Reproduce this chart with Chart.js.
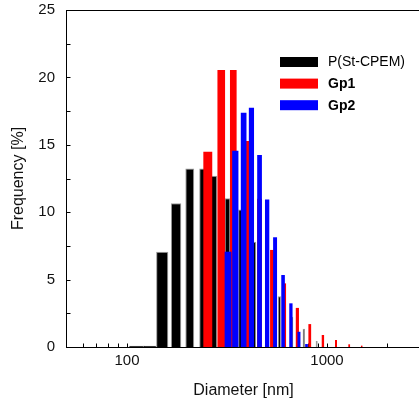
<!DOCTYPE html>
<html><head><meta charset="utf-8">
<script src="https://cdn.jsdelivr.net/npm/chart.js@4.4.0/dist/chart.umd.min.js"></script>
<style>
html,body{margin:0;padding:0;background:#fff;overflow:hidden;}
#wrap{position:relative;width:425px;height:403px;}
</style></head><body>
<div id="wrap"><canvas id="c"></canvas></div>
<script>
// ---- data ----
const seriesNames = ['P(St-CPEM)', 'Gp1', 'Gp2'];
const blackDiam = [112, 130, 150, 176, 206, 240, 272, 318, 370, 432, 501, 578, 668, 766, 888];
const blackFreq = [0.1, 0.1, 7.07, 10.66, 13.25, 13.25, 12.71, 11.03, 10.2, 7.8, 5.5, 3.76, 2.25, 1.35, 0.45];
const redDiam = [253.5, 296, 340, 396, 460, 532, 611, 711, 820, 954, 1109, 1291, 1491];
const redFreq = [14.49, 20.55, 20.55, 15.28, 11.0, 7.2, 4.72, 2.9, 1.7, 0.89, 0.52, 0.2, 0.1];
const blueDiam = [320, 348, 383, 419, 460, 502, 550, 603, 660, 724, 790];
const blueFreq = [7.07, 14.56, 17.38, 17.75, 14.24, 10.95, 8.14, 5.34, 3.24, 1.13, 0.22];
const xTickValues = [60, 70, 80, 90, 100, 200, 300, 400, 500, 600, 700, 800, 900, 1000, 2000];
const xTickLabels = [100, 1000];
const yTickLabels = [0, 5, 10, 15, 20, 25];
const yMinorTicks = [0, 2.5, 5, 7.5, 10, 12.5, 15, 17.5, 20, 22.5, 25];

const FONT = "'Liberation Sans', Arial, sans-serif";
const toPts = (d, f) => d.map((v, i) => ({x: v, y: f[i]}));

const binWidthPlugin = {
  id: 'binWidth',
  afterDatasetsUpdate(chart) {
    const xs = chart.scales.x;
    chart.data.datasets.forEach((ds, i) => {
      const meta = chart.getDatasetMeta(i);
      const w = ds.binWidthNm;
      meta.data.forEach((el, j) => {
        const d = ds.data[j].x;
        const l = xs.getPixelForValue(d - w / 2), r = xs.getPixelForValue(d + w / 2);
        el.width = r - l;
        el.x = xs.getPixelForValue(d);
      });
    });
  }
};

const framePlugin = {
  id: 'frame',
  beforeDatasetsDraw(chart) {
    const {ctx, chartArea: a, scales: {x, y}} = chart;
    ctx.save();
    ctx.strokeStyle = '#000';
    ctx.lineWidth = 1;
    ctx.beginPath();
    xTickValues.forEach(v => {
      const px = Math.round(x.getPixelForValue(v)) + 0.5;
      ctx.moveTo(px, a.bottom);
      ctx.lineTo(px, a.bottom - 3.5);
    });
    yMinorTicks.forEach(v => {
      const py = Math.round(y.getPixelForValue(v)) + 0.5;
      ctx.moveTo(a.left, py);
      ctx.lineTo(a.left + 4.5, py);
    });
    ctx.stroke();
    ctx.beginPath();
    ctx.moveTo(a.left, Math.round(a.top) + 0.5);
    ctx.lineTo(a.right + 5, Math.round(a.top) + 0.5);
    ctx.stroke();
    ctx.restore();
  }
};

const legendPlugin = {
  id: 'boxLegend',
  afterDraw(chart) {
    const {ctx, chartArea: a} = chart;
    ctx.save();
    chart.data.datasets.forEach((ds, i) => {
      const bx = a.left + 214, by = a.top + 47 + i * 21.6;
      ctx.fillStyle = ds.backgroundColor;
      ctx.fillRect(bx, by, 38, 10);
      ctx.fillStyle = '#000';
      ctx.font = (i === 0 ? '' : 'bold ') + '14px ' + FONT;
      ctx.textBaseline = 'middle';
      ctx.textAlign = 'left';
      ctx.fillText(ds.label, bx + 48, by + 5.5);
    });
    ctx.restore();
  }
};

new Chart(document.getElementById('c'), {
  type: 'bar',
  data: {
    datasets: [
      {label: seriesNames[0], data: toPts(blackDiam, blackFreq), backgroundColor: '#000000',
       borderColor: '#9a9a9a', borderWidth: 1, binWidthNm: 21, order: 3, grouped: false},
      {label: seriesNames[1], data: toPts(redDiam, redFreq), backgroundColor: '#ff0000',
       borderWidth: 0, binWidthNm: 26, order: 2, grouped: false},
      {label: seriesNames[2], data: toPts(blueDiam, blueFreq), backgroundColor: '#0000ff',
       borderWidth: 0, binWidthNm: 25, order: 1, grouped: false}
    ]
  },
  options: {
    responsive: true,
    maintainAspectRatio: false,
    animation: false,
    layout: {padding: {top: 10, right: 4, left: 0, bottom: 0}},
    plugins: {legend: {display: false}, tooltip: {enabled: false}},
    scales: {
      x: {
        type: 'logarithmic',
        min: 49.55, max: 2951,
        offset: false,
        grid: {display: false, drawTicks: false, offset: false},
        border: {display: true, color: '#000', width: 1},
        afterBuildTicks(scale) { scale.ticks = xTickValues.map(v => ({value: v})); },
        afterFit(scale) { scale.height = 56; scale.paddingLeft = 0; scale.paddingRight = 0; },
        ticks: {
          autoSkip: false, maxRotation: 0, padding: 5, color: '#111',
          font: {size: 15, family: FONT},
          callback: (v) => xTickLabels.includes(v) ? String(v) : ''
        },
        title: {display: true, text: 'Diameter [nm]', color: '#111',
                font: {size: 16, family: FONT}, padding: {top: 0, bottom: 3}}
      },
      y: {
        type: 'linear',
        min: 0, max: 25,
        grid: {display: false, drawTicks: false},
        border: {display: true, color: '#000', width: 1},
        afterBuildTicks(scale) { scale.ticks = yTickLabels.map(v => ({value: v})); },
        afterFit(scale) { scale.width = 66; scale.paddingTop = 0; scale.paddingBottom = 0; },
        ticks: {padding: 11, color: '#111', font: {size: 15, family: FONT}},
        title: {display: true, text: 'Frequency [%]', color: '#111',
                font: {size: 16, family: FONT}, padding: {top: 9, bottom: 0}}
      }
    }
  },
  plugins: [binWidthPlugin, framePlugin, legendPlugin]
});
</script>
</body></html>
